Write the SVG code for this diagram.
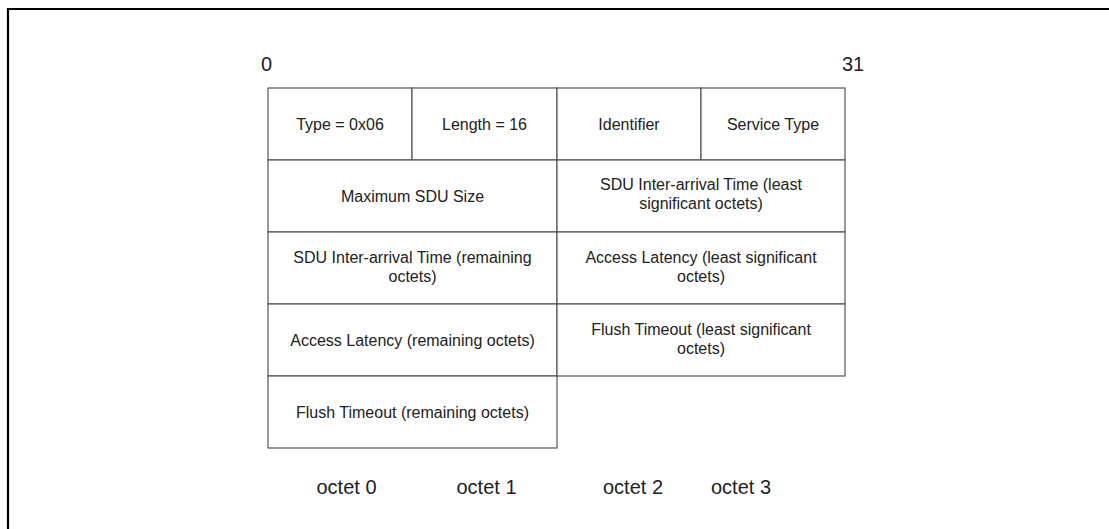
<svg xmlns="http://www.w3.org/2000/svg" width="1109" height="529" viewBox="0 0 1109 529">
<style>
.cell{fill:#fff;stroke:#555;stroke-width:1.2}
.t{font-family:"Liberation Sans",Arial,sans-serif;font-size:16px;fill:#222;text-anchor:middle}
.lbl{font-family:"Liberation Sans",Arial,sans-serif;font-size:20px;fill:#222}
.frame{fill:none;stroke:#000;stroke-width:2.2}
</style>
<rect width="1109" height="529" fill="#fff"/>
<path class="frame" d="M8 529 V9 H1109"/>
<g id="bit-labels">
<text class="lbl" x="261" y="70.5">0</text>
<text class="lbl" x="842" y="70.5">31</text>
</g>
<g id="type"><rect class="cell" x="268" y="88" width="144" height="72"/><text class="t" x="340" y="129.5">Type = 0x06</text></g>
<g id="length"><rect class="cell" x="412" y="88" width="145" height="72"/><text class="t" x="484.5" y="129.5">Length = 16</text></g>
<g id="identifier"><rect class="cell" x="557" y="88" width="144" height="72"/><text class="t" x="629" y="129.5">Identifier</text></g>
<g id="service-type"><rect class="cell" x="701" y="88" width="144" height="72"/><text class="t" x="773" y="129.5">Service Type</text></g>
<g id="max-sdu"><rect class="cell" x="268" y="160" width="289" height="72"/><text class="t" x="412.5" y="201.5">Maximum SDU Size</text></g>
<g id="sdu-iat-least"><rect class="cell" x="557" y="160" width="288" height="72"/><text class="t" x="701" y="190">SDU Inter-arrival Time (least</text><text class="t" x="701" y="209">significant octets)</text></g>
<g id="sdu-iat-rem"><rect class="cell" x="268" y="232" width="289" height="72"/><text class="t" x="412.5" y="263">SDU Inter-arrival Time (remaining</text><text class="t" x="412.5" y="282">octets)</text></g>
<g id="access-latency-least"><rect class="cell" x="557" y="232" width="288" height="72"/><text class="t" x="701" y="263">Access Latency (least significant</text><text class="t" x="701" y="282">octets)</text></g>
<g id="access-latency-rem"><rect class="cell" x="268" y="304" width="289" height="72"/><text class="t" x="412.5" y="345.5">Access Latency (remaining octets)</text></g>
<g id="flush-least"><rect class="cell" x="557" y="304" width="288" height="72"/><text class="t" x="701" y="335">Flush Timeout (least significant</text><text class="t" x="701" y="354">octets)</text></g>
<g id="flush-rem"><rect class="cell" x="268" y="376" width="289" height="72"/><text class="t" x="412.5" y="417.5">Flush Timeout (remaining octets)</text></g>
<g id="octet-labels">
<text class="lbl" x="316.5" y="494">octet 0</text>
<text class="lbl" x="456.5" y="494">octet 1</text>
<text class="lbl" x="603" y="494">octet 2</text>
<text class="lbl" x="711" y="494">octet 3</text>
</g>
<g id="connectors"/>
</svg>
